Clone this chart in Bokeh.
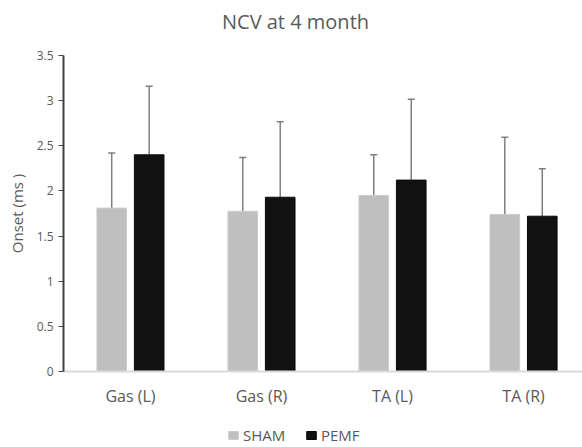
from bokeh.plotting import figure
from bokeh.layouts import column
from bokeh.models import (ColumnDataSource, Whisker, TeeHead, Legend, LegendItem,
                          FixedTicker, Label)
from bokeh.embed import file_html
from bokeh.resources import INLINE

# Nerve conduction onset (ms), mean and SD per muscle
muscles = ["Gas (L)", "Gas (R)", "TA (L)", "TA (R)"]
sham_mean = [1.81, 1.775, 1.95, 1.74]
sham_sd = [0.61, 0.595, 0.45, 0.855]
pemf_mean = [2.40, 1.93, 2.12, 1.72]
pemf_sd = [0.76, 0.835, 0.895, 0.525]
y_ticks = [0, 0.5, 1, 1.5, 2, 2.5, 3, 3.5]

TEXT = "#595959"
FONT = "Open Sans"
SHAM_FILL, SHAM_LINE = "#bfbfbf", "#cccccc"
PEMF_FILL, PEMF_LINE = "#111111", "#0a0a0a"
W = 582
LEFT = 63

xs = list(range(len(muscles)))
off = 0.143
bw = 0.226

sham = ColumnDataSource(dict(
    x=[i - off for i in xs], top=sham_mean,
    upper=[m + s for m, s in zip(sham_mean, sham_sd)]))
pemf = ColumnDataSource(dict(
    x=[i + off for i in xs], top=pemf_mean,
    upper=[m + s for m, s in zip(pemf_mean, pemf_sd)]))


def strip(height):
    """A blank band (no axes, no grid) used for the heading and the key."""
    s = figure(width=W, height=height, output_backend="svg", toolbar_location=None,
               x_range=(0, W - LEFT), y_range=(0, height),
               x_axis_location=None, y_axis_location=None,
               min_border_left=LEFT, min_border_right=0, min_border_top=0,
               min_border_bottom=0)
    s.outline_line_color = None
    s.grid.visible = False
    return s


# Heading band
head = strip(42)
head.add_layout(Label(x=295 - LEFT, y=21, text="NCV at 4 month",
                      text_align="center", text_baseline="middle",
                      text_font=FONT, text_font_size="20px", text_color=TEXT))

# Main chart
p = figure(width=W, height=368, output_backend="svg", toolbar_location=None,
           title=None, x_range=(-0.511, 3.45), y_range=(0, 3.5),
           min_border_left=LEFT, min_border_right=0, min_border_top=13,
           min_border_bottom=39)
p.outline_line_color = None
p.background_fill_color = "white"
p.xgrid.grid_line_color = None
p.ygrid.grid_line_color = None

p.vbar(x="x", top="top", width=bw, source=sham,
       fill_color=SHAM_FILL, line_color=SHAM_LINE, line_width=1)
p.vbar(x="x", top="top", width=bw, source=pemf,
       fill_color=PEMF_FILL, line_color=PEMF_LINE, line_width=1)

for src in (sham, pemf):
    w = Whisker(base="x", lower="top", upper="upper", source=src,
                line_color="#7f7f7f", line_width=1.5,
                upper_head=TeeHead(size=7, line_color="#7f7f7f", line_width=1.5),
                lower_head=None)
    p.add_layout(w)

# Y axis
p.yaxis.ticker = FixedTicker(ticks=y_ticks)
p.yaxis.minor_tick_line_color = None
p.yaxis.major_tick_in = 0
p.yaxis.major_tick_out = 5
p.yaxis.major_tick_line_color = "#404040"
p.yaxis.axis_line_color = "#404040"
p.yaxis.axis_line_width = 2
p.yaxis.major_label_text_font = FONT
p.yaxis.major_label_text_font_size = "12px"
p.yaxis.major_label_text_color = TEXT
p.yaxis.major_label_standoff = 5
p.yaxis.axis_label = "Onset (ms )"
p.yaxis.axis_label_text_font = FONT
p.yaxis.axis_label_text_font_size = "15px"
p.yaxis.axis_label_text_font_style = "normal"
p.yaxis.axis_label_text_color = TEXT
p.yaxis.axis_label_standoff = 7

# X axis with category names
p.xaxis.ticker = FixedTicker(ticks=xs)
p.xaxis.major_label_overrides = {i: m for i, m in zip(xs, muscles)}
p.xaxis.minor_tick_line_color = None
p.xaxis.major_tick_line_color = None
p.xaxis.axis_line_color = "#d9d9d9"
p.xaxis.axis_line_width = 2
p.xaxis.major_label_text_font = FONT
p.xaxis.major_label_text_font_size = "16px"
p.xaxis.major_label_text_color = TEXT
p.xaxis.major_label_standoff = 7

# Key band; its swatch renderers hold no drawable points
nan = float("nan")
key = strip(37)
k_sham = key.vbar(x=[nan], top=[nan], width=1, fill_color=SHAM_FILL, line_color=SHAM_LINE)
k_pemf = key.vbar(x=[nan], top=[nan], width=1, fill_color=PEMF_FILL, line_color=PEMF_LINE)

legend = Legend(items=[LegendItem(label="SHAM", renderers=[k_sham]),
                       LegendItem(label="PEMF", renderers=[k_pemf])],
                orientation="horizontal", location=(227 - LEFT, 2),
                border_line_color=None, background_fill_alpha=0,
                padding=0, margin=0, spacing=16,
                glyph_width=12, glyph_height=10, label_standoff=4,
                label_width=46,
                label_text_font=FONT, label_text_font_size="15px",
                label_text_color=TEXT)
key.add_layout(legend, "center")

page = column(head, p, key, spacing=0)

with open("out.html", "w") as f:
    f.write(file_html(page, INLINE))
